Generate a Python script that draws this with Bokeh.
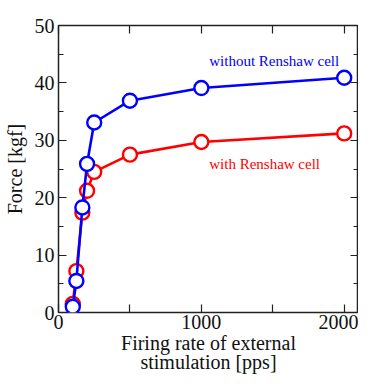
from bokeh.plotting import figure
from bokeh.models import LinearAxis, FixedTicker, Range1d, Label, CustomJSTickFormatter
from bokeh.embed import file_html
from bokeh.resources import INLINE

# data
rate = [100, 125, 167, 200, 250, 500, 1000, 2000]
force_with = [1.5, 7.2, 17.4, 21.2, 24.5, 27.5, 29.7, 31.2]
force_without = [1.0, 5.5, 18.3, 25.9, 33.1, 36.9, 39.1, 40.9]
x_ticks = [0, 1000, 2000]
x_minor = [500, 1500]
y_ticks = [0, 10, 20, 30, 40, 50]
y_minor = [5, 15, 25, 35, 45]

FONT = "Liberation Serif"

p = figure(width=358, height=376, output_backend="svg", toolbar_location=None,
           x_range=Range1d(0, 2100), y_range=Range1d(0, 50),
           min_border_left=54, min_border_top=25, min_border_right=0, min_border_bottom=0)
p.xgrid.visible = False
p.ygrid.visible = False
p.outline_line_color = "#222222"
p.outline_line_width = 1.5
p.background_fill_color = "white"

xt = FixedTicker(ticks=x_ticks, minor_ticks=x_minor)
yt = FixedTicker(ticks=y_ticks, minor_ticks=y_minor)

def style(ax, labels):
    ax.axis_line_color = None
    ax.major_tick_in = 8
    ax.major_tick_out = 0
    ax.minor_tick_in = 5
    ax.minor_tick_out = 0
    ax.major_tick_line_color = "#222222"
    ax.minor_tick_line_color = "#222222"
    ax.major_tick_line_width = 1.2
    ax.minor_tick_line_width = 1.2
    if labels:
        ax.major_label_text_font = FONT
        ax.major_label_text_font_size = "20px"
        ax.major_label_text_color = "#111111"
        ax.axis_label_text_font = FONT
        ax.axis_label_text_font_size = "20px"
        ax.axis_label_text_font_style = "normal"
        ax.axis_label_text_color = "#111111"
    else:
        ax.major_label_text_font_size = "0px"
        ax.major_label_standoff = 0
        ax.formatter = CustomJSTickFormatter(code="return ''")

xa = p.xaxis[0]
xa.ticker = xt
style(xa, True)
xa.minor_tick_in = 8
xa.major_label_standoff = 2
xa.axis_label = "Firing rate of external\nstimulation [pps]"
xa.axis_label_standoff = 0
xa.axis_label_text_line_height = 0.9

ya = p.yaxis[0]
ya.ticker = yt
style(ya, True)
ya.major_label_standoff = 4
ya.axis_label = "Force [kgf]"
ya.axis_label_standoff = 6

top = LinearAxis(ticker=FixedTicker(ticks=x_ticks, minor_ticks=x_minor))
style(top, False)
top.minor_tick_in = 8
p.add_layout(top, "above")
right = LinearAxis(ticker=FixedTicker(ticks=y_ticks, minor_ticks=y_minor))
style(right, False)
p.add_layout(right, "right")

# red: with Renshaw cell
p.line(rate, force_with, line_color="#ff0000", line_width=2.6)
p.scatter(rate, force_with, marker="circle", size=14, fill_color="white",
          line_color="#ff0000", line_width=2.4)
# blue: without Renshaw cell
p.line(rate, force_without, line_color="#0000ff", line_width=2.6)
p.scatter(rate, force_without, marker="circle", size=14, fill_color="white",
          line_color="#0000ff", line_width=2.4)

p.add_layout(Label(x=1055, y=43.9, text="without Renshaw cell", text_color="#0000ff",
                   text_font=FONT, text_font_size="15px", text_baseline="middle"))
p.add_layout(Label(x=1055, y=25.8, text="with Renshaw cell", text_color="#ff0000",
                   text_font=FONT, text_font_size="15px", text_baseline="middle"))

open("out.html", "w").write(file_html(p, INLINE))
